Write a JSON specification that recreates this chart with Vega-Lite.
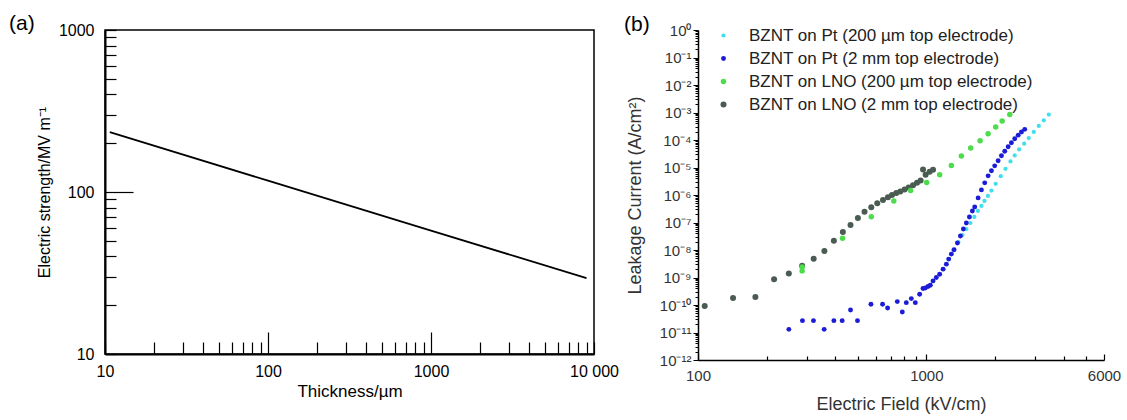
{
  "$schema": "https://vega.github.io/schema/vega-lite/v6.json",
  "background": "white",
  "padding": {"left": 8, "top": 12, "right": 5, "bottom": 5},
  "spacing": 104,
  "bounds": "flush",
  "resolve": {"legend": {"color": "independent", "size": "independent"}},
  "config": {
    "view": {"stroke": null},
    "axis": {"grid": false, "domainColor": "black", "tickColor": "black", "labelColor": "black", "titleColor": "black", "titleFontWeight": "normal", "labelOverlap": false, "labelFlush": false},
    "title": {"fontWeight": "normal", "color": "black", "font": "Liberation Sans", "fontSize": 21}
  },
  "datasets": {
    "a": [
      {"thickness": 10.7, "strength": 234},
      {"thickness": 100, "strength": 117.5},
      {"thickness": 1000, "strength": 57.8},
      {"thickness": 9000, "strength": 29.4}
    ],
    "b": [
      {"series": "BZNT on Pt (200 µm top electrode)", "E": 1187, "J": 2.01e-9},
      {"series": "BZNT on Pt (200 µm top electrode)", "E": 1253, "J": 4.66e-9},
      {"series": "BZNT on Pt (200 µm top electrode)", "E": 1313, "J": 9.91e-9},
      {"series": "BZNT on Pt (200 µm top electrode)", "E": 1382, "J": 1.94e-8},
      {"series": "BZNT on Pt (200 µm top electrode)", "E": 1439, "J": 3.50e-8},
      {"series": "BZNT on Pt (200 µm top electrode)", "E": 1497, "J": 5.79e-8},
      {"series": "BZNT on Pt (200 µm top electrode)", "E": 1560, "J": 9.59e-8},
      {"series": "BZNT on Pt (200 µm top electrode)", "E": 1624, "J": 1.59e-7},
      {"series": "BZNT on Pt (200 µm top electrode)", "E": 1682, "J": 2.63e-7},
      {"series": "BZNT on Pt (200 µm top electrode)", "E": 1743, "J": 4.00e-7},
      {"series": "BZNT on Pt (200 µm top electrode)", "E": 1797, "J": 6.09e-7},
      {"series": "BZNT on Pt (200 µm top electrode)", "E": 1861, "J": 9.27e-7},
      {"series": "BZNT on Pt (200 µm top electrode)", "E": 1928, "J": 1.45e-6},
      {"series": "BZNT on Pt (200 µm top electrode)", "E": 2013, "J": 2.54e-6},
      {"series": "BZNT on Pt (200 µm top electrode)", "E": 2118, "J": 4.85e-6},
      {"series": "BZNT on Pt (200 µm top electrode)", "E": 2221, "J": 8.97e-6},
      {"series": "BZNT on Pt (200 µm top electrode)", "E": 2336, "J": 1.66e-5},
      {"series": "BZNT on Pt (200 µm top electrode)", "E": 2439, "J": 2.74e-5},
      {"series": "BZNT on Pt (200 µm top electrode)", "E": 2550, "J": 4.54e-5},
      {"series": "BZNT on Pt (200 µm top electrode)", "E": 2683, "J": 7.33e-5},
      {"series": "BZNT on Pt (200 µm top electrode)", "E": 2810, "J": 1.18e-4},
      {"series": "BZNT on Pt (200 µm top electrode)", "E": 2955, "J": 1.96e-4},
      {"series": "BZNT on Pt (200 µm top electrode)", "E": 3108, "J": 3.24e-4},
      {"series": "BZNT on Pt (200 µm top electrode)", "E": 3269, "J": 5.19e-4},
      {"series": "BZNT on Pt (200 µm top electrode)", "E": 3439, "J": 8.38e-4},

      {"series": "BZNT on LNO (2 mm top electrode)", "E": 107, "J": 9.20e-11},
      {"series": "BZNT on LNO (2 mm top electrode)", "E": 142.4, "J": 1.80e-10},
      {"series": "BZNT on LNO (2 mm top electrode)", "E": 178.4, "J": 1.96e-10},
      {"series": "BZNT on LNO (2 mm top electrode)", "E": 215.4, "J": 8.67e-10},
      {"series": "BZNT on LNO (2 mm top electrode)", "E": 249.9, "J": 1.40e-9},
      {"series": "BZNT on LNO (2 mm top electrode)", "E": 285.8, "J": 2.65e-9},
      {"series": "BZNT on LNO (2 mm top electrode)", "E": 321.1, "J": 4.85e-9},
      {"series": "BZNT on LNO (2 mm top electrode)", "E": 357.7, "J": 9.12e-9},
      {"series": "BZNT on LNO (2 mm top electrode)", "E": 393.6, "J": 2.17e-8},
      {"series": "BZNT on LNO (2 mm top electrode)", "E": 431, "J": 4.50e-8},
      {"series": "BZNT on LNO (2 mm top electrode)", "E": 465.6, "J": 8.11e-8},
      {"series": "BZNT on LNO (2 mm top electrode)", "E": 501.5, "J": 1.46e-7},
      {"series": "BZNT on LNO (2 mm top electrode)", "E": 536.2, "J": 2.48e-7},
      {"series": "BZNT on LNO (2 mm top electrode)", "E": 573.9, "J": 3.59e-7},
      {"series": "BZNT on LNO (2 mm top electrode)", "E": 609.7, "J": 5.02e-7},
      {"series": "BZNT on LNO (2 mm top electrode)", "E": 645.9, "J": 6.62e-7},
      {"series": "BZNT on LNO (2 mm top electrode)", "E": 679.2, "J": 8.32e-7},
      {"series": "BZNT on LNO (2 mm top electrode)", "E": 707.3, "J": 1.01e-6},
      {"series": "BZNT on LNO (2 mm top electrode)", "E": 738.6, "J": 1.19e-6},
      {"series": "BZNT on LNO (2 mm top electrode)", "E": 769.1, "J": 1.35e-6},
      {"series": "BZNT on LNO (2 mm top electrode)", "E": 803.1, "J": 1.57e-6},
      {"series": "BZNT on LNO (2 mm top electrode)", "E": 836.3, "J": 1.89e-6},
      {"series": "BZNT on LNO (2 mm top electrode)", "E": 874.3, "J": 2.24e-6},
      {"series": "BZNT on LNO (2 mm top electrode)", "E": 910.3, "J": 2.77e-6},
      {"series": "BZNT on LNO (2 mm top electrode)", "E": 944.1, "J": 3.36e-6},
      {"series": "BZNT on LNO (2 mm top electrode)", "E": 967.2, "J": 8.45e-6},
      {"series": "BZNT on LNO (2 mm top electrode)", "E": 992.9, "J": 5.42e-6},
      {"series": "BZNT on LNO (2 mm top electrode)", "E": 1034, "J": 6.97e-6},
      {"series": "BZNT on LNO (2 mm top electrode)", "E": 1070, "J": 8.24e-6},

      {"series": "BZNT on LNO (200 µm top electrode)", "E": 285.8, "J": 2.4e-9},
      {"series": "BZNT on LNO (200 µm top electrode)", "E": 285.8, "J": 1.74e-9},
      {"series": "BZNT on LNO (200 µm top electrode)", "E": 429.4, "J": 2.65e-8},
      {"series": "BZNT on LNO (200 µm top electrode)", "E": 573.9, "J": 1.63e-7},
      {"series": "BZNT on LNO (200 µm top electrode)", "E": 720.3, "J": 6.09e-7},
      {"series": "BZNT on LNO (200 µm top electrode)", "E": 853.5, "J": 1.45e-6},
      {"series": "BZNT on LNO (200 µm top electrode)", "E": 1003, "J": 2.86e-6},
      {"series": "BZNT on LNO (200 µm top electrode)", "E": 1144, "J": 5.42e-6},
      {"series": "BZNT on LNO (200 µm top electrode)", "E": 1287, "J": 1.18e-5},
      {"series": "BZNT on LNO (200 µm top electrode)", "E": 1424, "J": 2.61e-5},
      {"series": "BZNT on LNO (200 µm top electrode)", "E": 1564, "J": 5.10e-5},
      {"series": "BZNT on LNO (200 µm top electrode)", "E": 1720, "J": 9.42e-5},
      {"series": "BZNT on LNO (200 µm top electrode)", "E": 1865, "J": 1.70e-4},
      {"series": "BZNT on LNO (200 µm top electrode)", "E": 2013, "J": 2.98e-4},
      {"series": "BZNT on LNO (200 µm top electrode)", "E": 2148, "J": 4.93e-4},
      {"series": "BZNT on LNO (200 µm top electrode)", "E": 2320, "J": 8.38e-4},

      {"series": "BZNT on Pt (2 mm top electrode)", "E": 250, "J": 1.30e-11},
      {"series": "BZNT on Pt (2 mm top electrode)", "E": 286.7, "J": 2.70e-11},
      {"series": "BZNT on Pt (2 mm top electrode)", "E": 320.4, "J": 2.70e-11},
      {"series": "BZNT on Pt (2 mm top electrode)", "E": 356.9, "J": 1.30e-11},
      {"series": "BZNT on Pt (2 mm top electrode)", "E": 393.6, "J": 2.70e-11},
      {"series": "BZNT on Pt (2 mm top electrode)", "E": 428, "J": 2.70e-11},
      {"series": "BZNT on Pt (2 mm top electrode)", "E": 465.6, "J": 6.58e-11},
      {"series": "BZNT on Pt (2 mm top electrode)", "E": 499.5, "J": 2.70e-11},
      {"series": "BZNT on Pt (2 mm top electrode)", "E": 572.2, "J": 1.06e-10},
      {"series": "BZNT on Pt (2 mm top electrode)", "E": 643.2, "J": 1.06e-10},
      {"series": "BZNT on Pt (2 mm top electrode)", "E": 676.6, "J": 7.78e-11},
      {"series": "BZNT on Pt (2 mm top electrode)", "E": 746.2, "J": 1.33e-10},
      {"series": "BZNT on Pt (2 mm top electrode)", "E": 784.8, "J": 5.56e-11},
      {"series": "BZNT on Pt (2 mm top electrode)", "E": 817.2, "J": 1.22e-10},
      {"series": "BZNT on Pt (2 mm top electrode)", "E": 859.5, "J": 1.71e-10},
      {"series": "BZNT on Pt (2 mm top electrode)", "E": 894.9, "J": 1.22e-10},
      {"series": "BZNT on Pt (2 mm top electrode)", "E": 934.6, "J": 2.46e-10},
      {"series": "BZNT on Pt (2 mm top electrode)", "E": 967.2, "J": 3.97e-10},
      {"series": "BZNT on Pt (2 mm top electrode)", "E": 990, "J": 4.17e-10},
      {"series": "BZNT on Pt (2 mm top electrode)", "E": 1017, "J": 4.70e-10},
      {"series": "BZNT on Pt (2 mm top electrode)", "E": 1041, "J": 5.24e-10},
      {"series": "BZNT on Pt (2 mm top electrode)", "E": 1070, "J": 7.52e-10},
      {"series": "BZNT on Pt (2 mm top electrode)", "E": 1106, "J": 1.0e-9},
      {"series": "BZNT on Pt (2 mm top electrode)", "E": 1144, "J": 1.32e-9},
      {"series": "BZNT on Pt (2 mm top electrode)", "E": 1184, "J": 2.01e-9},
      {"series": "BZNT on Pt (2 mm top electrode)", "E": 1224, "J": 3.06e-9},
      {"series": "BZNT on Pt (2 mm top electrode)", "E": 1253, "J": 4.66e-9},
      {"series": "BZNT on Pt (2 mm top electrode)", "E": 1287, "J": 7.08e-9},
      {"series": "BZNT on Pt (2 mm top electrode)", "E": 1323, "J": 1.02e-8},
      {"series": "BZNT on Pt (2 mm top electrode)", "E": 1368, "J": 1.79e-8},
      {"series": "BZNT on Pt (2 mm top electrode)", "E": 1410, "J": 3.21e-8},
      {"series": "BZNT on Pt (2 mm top electrode)", "E": 1453, "J": 5.79e-8},
      {"series": "BZNT on Pt (2 mm top electrode)", "E": 1497, "J": 9.59e-8},
      {"series": "BZNT on Pt (2 mm top electrode)", "E": 1544, "J": 1.59e-7},
      {"series": "BZNT on Pt (2 mm top electrode)", "E": 1591, "J": 2.63e-7},
      {"series": "BZNT on Pt (2 mm top electrode)", "E": 1629, "J": 3.68e-7},
      {"series": "BZNT on Pt (2 mm top electrode)", "E": 1686, "J": 7.83e-7},
      {"series": "BZNT on Pt (2 mm top electrode)", "E": 1743, "J": 1.53e-6},
      {"series": "BZNT on Pt (2 mm top electrode)", "E": 1802, "J": 2.77e-6},
      {"series": "BZNT on Pt (2 mm top electrode)", "E": 1865, "J": 4.98e-6},
      {"series": "BZNT on Pt (2 mm top electrode)", "E": 1928, "J": 7.58e-6},
      {"series": "BZNT on Pt (2 mm top electrode)", "E": 1993, "J": 1.15e-5},
      {"series": "BZNT on Pt (2 mm top electrode)", "E": 2063, "J": 1.76e-5},
      {"series": "BZNT on Pt (2 mm top electrode)", "E": 2133, "J": 2.67e-5},
      {"series": "BZNT on Pt (2 mm top electrode)", "E": 2205, "J": 3.90e-5},
      {"series": "BZNT on Pt (2 mm top electrode)", "E": 2282, "J": 5.69e-5},
      {"series": "BZNT on Pt (2 mm top electrode)", "E": 2359, "J": 7.96e-5},
      {"series": "BZNT on Pt (2 mm top electrode)", "E": 2439, "J": 1.11e-4},
      {"series": "BZNT on Pt (2 mm top electrode)", "E": 2525, "J": 1.50e-4},
      {"series": "BZNT on Pt (2 mm top electrode)", "E": 2611, "J": 1.96e-4},
      {"series": "BZNT on Pt (2 mm top electrode)", "E": 2698, "J": 2.44e-4}
    ]
  },
  "hconcat": [
    {
      "width": 489,
      "height": 324,
      "view": {"stroke": "black", "strokeWidth": 1.5},
      "title": {"text": "(a)", "anchor": "start", "frame": "group", "dx": -96, "offset": -12},
      "data": {"name": "a"},
      "mark": {"type": "line", "color": "black", "strokeWidth": 1.8},
      "encoding": {
        "x": {
          "field": "thickness", "type": "quantitative",
          "scale": {"type": "log", "domain": [10, 10000]},
          "axis": {
            "title": "Thickness/µm",
            "values": [10,20,30,40,50,60,70,80,90,100,200,300,400,500,600,700,800,900,1000,2000,3000,4000,5000,6000,7000,8000,9000,10000],
            "labelExpr": "datum.value == 10 ? '10' : datum.value == 100 ? '100' : datum.value == 1000 ? '1000' : datum.value == 10000 ? '10 000' : ''",
            "tickSize": {"condition": {"test": "datum.value == 100 || datum.value == 1000", "value": -22}, "value": -12},
            "labelPadding": {"condition": {"test": "datum.value == 100 || datum.value == 1000", "value": 31}, "value": 21},
            "labelFontSize": 16, "labelFont": "Liberation Sans",
            "titleFontSize": 17, "titleFont": "Liberation Sans", "titlePadding": 4,
            "domainWidth": 2, "tickWidth": 1.2
          }
        },
        "y": {
          "field": "strength", "type": "quantitative",
          "scale": {"type": "log", "domain": [10, 1000]},
          "axis": {
            "title": "Electric strength/MV m⁻¹",
            "values": [10,20,30,40,50,60,70,80,90,100,200,300,400,500,600,700,800,900,1000],
            "labelExpr": "datum.value == 10 ? '10' : datum.value == 100 ? '100' : datum.value == 1000 ? '1000' : ''",
            "tickSize": {"condition": {"test": "datum.value == 100", "value": -28}, "value": -11},
            "labelPadding": {"condition": {"test": "datum.value == 100", "value": 39}, "value": 22},
            "labelFontSize": 16, "labelFont": "Liberation Sans",
            "titleFontSize": 16, "titleFont": "Liberation Sans", "titlePadding": 6,
            "domainWidth": 2, "tickWidth": 1.2
          }
        }
      }
    },
    {
      "width": 406,
      "height": 330,
      "title": {"text": "(b)", "anchor": "start", "frame": "group", "dx": -74, "offset": -12},
      "data": {"name": "b"},
      "mark": {"type": "point", "filled": true, "opacity": 1},
      "encoding": {
        "x": {
          "field": "E", "type": "quantitative",
          "scale": {"type": "log", "domain": [100, 6000]},
          "axis": {
            "title": "Electric Field (kV/cm)",
            "values": [100,200,300,400,500,600,700,800,900,1000,2000,3000,4000,5000,6000],
            "labelExpr": "datum.value == 100 ? '100' : datum.value == 1000 ? '1000' : datum.value == 6000 ? '6000' : ''",
            "tickSize": {"condition": {"test": "datum.value == 100 || datum.value == 1000 || datum.value == 6000", "value": -6}, "value": -4},
            "labelPadding": {"condition": {"test": "datum.value == 100 || datum.value == 1000 || datum.value == 6000", "value": 14}, "value": 12},
            "labelFontSize": 15, "labelFont": "Liberation Sans", "labelColor": "#333",
            "titleFontSize": 18, "titleFont": "Liberation Sans", "titleColor": "#333", "titlePadding": 12,
            "domainWidth": 1.5, "tickWidth": 1.2
          }
        },
        "y": {
          "field": "J", "type": "quantitative",
          "scale": {"type": "log", "domain": [1e-12, 1]},
          "axis": {
            "title": "Leakage Current (A/cm²)",
            "values": [1e-12,2e-12,3e-12,4e-12,5e-12,6e-12,7e-12,8e-12,9e-12,1e-11,2e-11,3e-11,4e-11,5e-11,6e-11,7e-11,8e-11,9e-11,1e-10,2e-10,3e-10,4e-10,5e-10,6e-10,7e-10,8e-10,9e-10,1e-9,2e-9,3e-9,4e-9,5e-9,6e-9,7e-9,8e-9,9e-9,1e-8,2e-8,3e-8,4e-8,5e-8,6e-8,7e-8,8e-8,9e-8,1e-7,2e-7,3e-7,4e-7,5e-7,6e-7,7e-7,8e-7,9e-7,1e-6,2e-6,3e-6,4e-6,5e-6,6e-6,7e-6,8e-6,9e-6,1e-5,2e-5,3e-5,4e-5,5e-5,6e-5,7e-5,8e-5,9e-5,1e-4,2e-4,3e-4,4e-4,5e-4,6e-4,7e-4,8e-4,9e-4,1e-3,2e-3,3e-3,4e-3,5e-3,6e-3,7e-3,8e-3,9e-3,1e-2,2e-2,3e-2,4e-2,5e-2,6e-2,7e-2,8e-2,9e-2,1e-1,2e-1,3e-1,4e-1,5e-1,6e-1,7e-1,8e-1,9e-1,1],
            "labelExpr": "abs(log(datum.value)/LN10 - round(log(datum.value)/LN10)) < 0.001 ? '10' + (datum.value < 0.5 ? '⁻' : '') + ['⁰','¹','²','³','⁴','⁵','⁶','⁷','⁸','⁹','¹⁰','¹¹','¹²'][abs(round(log(datum.value)/LN10))] : ''",
            "tickSize": {"condition": {"test": "abs(log(datum.value)/LN10 - round(log(datum.value)/LN10)) < 0.001", "value": 5}, "value": 3},
            "labelPadding": 2,
            "labelFontSize": 15, "labelFont": "Liberation Sans", "labelColor": "#333",
            "titleFontSize": 18, "titleFont": "Liberation Sans", "titleColor": "#333", "titlePadding": 15,
            "domainWidth": 1.5, "tickWidth": 1
          }
        },
        "color": {
          "field": "series", "type": "nominal",
          "scale": {
            "domain": ["BZNT on Pt (200 µm top electrode)", "BZNT on Pt (2 mm top electrode)", "BZNT on LNO (200 µm top electrode)", "BZNT on LNO (2 mm top electrode)"],
            "range": ["#3fe0ec", "#1c1cd6", "#4cdc4c", "#4a5c52"]
          },
          "legend": {
            "title": null, "orient": "none", "legendX": 17, "legendY": -3,
            "labelFontSize": 17, "labelFont": "Liberation Sans", "labelColor": "#222", "labelLimit": 500,
            "symbolSize": 20, "symbolType": "circle", "rowPadding": 5, "labelOffset": 17, "padding": 0, "symbolStrokeWidth": 0
          }
        },
        "size": {
          "field": "series", "type": "nominal",
          "scale": {
            "domain": ["BZNT on Pt (200 µm top electrode)", "BZNT on Pt (2 mm top electrode)", "BZNT on LNO (200 µm top electrode)", "BZNT on LNO (2 mm top electrode)"],
            "range": [18, 36, 18, 14]
          },
          "legend": null
        }
      }
    }
  ]
}
